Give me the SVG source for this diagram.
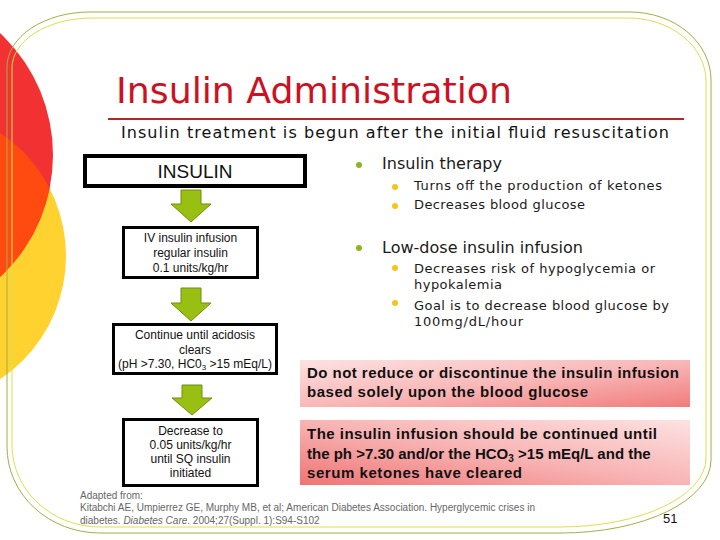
<svg xmlns="http://www.w3.org/2000/svg" width="720" height="540" viewBox="0 0 720 540">
<defs>
<style>
.box{fill:#fff;stroke:#000;stroke-width:3}
.bt{font-family:"Liberation Sans",Arial,sans-serif;font-size:12px;fill:#111;text-anchor:middle}
.arr{fill:#98bf12;stroke:#6f8f10;stroke-width:1}
.b1{font-family:"DejaVu Sans",Verdana,sans-serif;font-size:16px;fill:#1a1a1a}
.b2{font-family:"DejaVu Sans",Verdana,sans-serif;font-size:13px;fill:#1a1a1a}
.pk{font-family:"Liberation Sans",Arial,sans-serif;font-size:15px;font-weight:bold;fill:#111}
.ft{font-family:"Liberation Sans",Arial,sans-serif;font-size:10px;fill:#666}
.gd{fill:#8db520}
.yd{fill:#f5c518}
</style>
<linearGradient id="gA" x1="0" y1="0" x2="1" y2="1">
<stop offset="0" stop-color="#fde2e2"/>
<stop offset="0.5" stop-color="#f9b8b8"/>
<stop offset="1" stop-color="#f07c7c"/>
</linearGradient>
<linearGradient id="gB" x1="0" y1="1" x2="1" y2="0">
<stop offset="0" stop-color="#ef7474"/>
<stop offset="0.5" stop-color="#f8b4b4"/>
<stop offset="1" stop-color="#fde2e2"/>
</linearGradient>
<clipPath id="cy"><circle cx="-82" cy="256" r="148"/></clipPath>
</defs>

<g id="decor">
<circle cx="-82" cy="256" r="148" fill="#ffd230"/>
<circle cx="-114" cy="155" r="167" fill="#f23232"/>
<circle cx="-114" cy="155" r="167" fill="#ff4a10" clip-path="url(#cy)"/>
<path d="M 90,12 H 630 A 81,68 0 0 1 711,80 V 460 A 150,73 0 0 1 561,533 H 100 A 93,86 0 0 1 7,447 V 67 A 83,55 0 0 1 90,12 Z" fill="none" stroke="#a4ad45" stroke-width="1"/>
<path d="M 92,18 H 628 A 78,63 0 0 1 706,81 V 458 A 146,69 0 0 1 560,527 H 100 A 88,82 0 0 1 12,445 V 68 A 80,50 0 0 1 92,18 Z" fill="none" stroke="#dede50" stroke-width="1"/>
</g>

<g id="title">
<text x="116" y="103" font-family="'DejaVu Sans',Verdana,sans-serif" font-size="35.5" fill="#cc1122" textLength="396" lengthAdjust="spacingAndGlyphs">Insulin Administration</text>
<line x1="108" y1="119" x2="684" y2="119" stroke="#b02828" stroke-width="2"/>
<text x="121" y="138" font-family="'DejaVu Sans',Verdana,sans-serif" font-size="16" fill="#111" textLength="548" lengthAdjust="spacing">Insulin treatment is begun after the initial fluid resuscitation</text>
</g>

<g id="connectors">
<polygon class="arr" points="181,190 201,190 201,204 211,204 191,222 171,204 181,204"/>
<polygon class="arr" points="181,288 201,288 201,303 211,303 191,321 171,303 181,303"/>
<polygon class="arr" points="182,385 202,385 202,398 212,398 192,415 172,398 182,398"/>
</g>

<g id="node-insulin">
<rect x="85" y="156" width="220" height="30" fill="#fff" stroke="#000" stroke-width="4"/>
<text x="195" y="178" font-family="'Liberation Sans',Arial,sans-serif" font-size="19" fill="#111" text-anchor="middle">INSULIN</text>
</g>

<g id="node-iv">
<rect class="box" x="123.5" y="227.5" width="134" height="50"/>
<text class="bt" x="190.5" y="242">IV insulin infusion</text>
<text class="bt" x="190.5" y="257">regular insulin</text>
<text class="bt" x="190.5" y="272">0.1 units/kg/hr</text>
</g>

<g id="node-continue">
<rect class="box" x="113.5" y="324.5" width="163" height="49"/>
<text class="bt" x="195" y="339">Continue until acidosis</text>
<text class="bt" x="195" y="354">clears</text>
<text class="bt" x="195" y="368">(pH &gt;7.30, HC0<tspan font-size="8" dy="2">3</tspan><tspan dy="-2"> &gt;15 mEq/L)</tspan></text>
</g>

<g id="node-decrease">
<rect class="box" x="123.5" y="419.5" width="134" height="66"/>
<text class="bt" x="190.5" y="435">Decrease to</text>
<text class="bt" x="190.5" y="449">0.05 units/kg/hr</text>
<text class="bt" x="190.5" y="463">until SQ insulin</text>
<text class="bt" x="190.5" y="477">initiated</text>
</g>

<g id="bullets">
<circle class="gd" cx="359" cy="165" r="3"/>
<text class="b1" x="382" y="169" textLength="120" lengthAdjust="spacing">Insulin therapy</text>
<circle class="yd" cx="395" cy="187" r="3"/>
<text class="b2" x="414" y="190" textLength="248" lengthAdjust="spacing">Turns off the production of ketones</text>
<circle class="yd" cx="395" cy="206" r="3"/>
<text class="b2" x="414" y="209" textLength="171" lengthAdjust="spacing">Decreases blood glucose</text>
<circle class="gd" cx="359" cy="248" r="3"/>
<text class="b1" x="382" y="253" textLength="201" lengthAdjust="spacing">Low-dose insulin infusion</text>
<circle class="yd" cx="395" cy="268" r="3"/>
<text class="b2" x="414" y="273" textLength="241" lengthAdjust="spacing">Decreases risk of hypoglycemia or</text>
<text class="b2" x="414" y="289" textLength="88" lengthAdjust="spacing">hypokalemia</text>
<circle class="yd" cx="395" cy="303" r="3"/>
<text class="b2" x="414" y="310" textLength="255" lengthAdjust="spacing">Goal is to decrease blood glucose by</text>
<text class="b2" x="414" y="326" textLength="109" lengthAdjust="spacing">100mg/dL/hour</text>
</g>

<g id="note-1">
<rect x="300" y="360" width="390" height="47" fill="url(#gA)"/>
<text class="pk" x="307" y="378" textLength="372" lengthAdjust="spacing">Do not reduce or discontinue the insulin infusion</text>
<text class="pk" x="307" y="397" textLength="281" lengthAdjust="spacing">based solely upon the blood glucose</text>
</g>

<g id="note-2">
<rect x="300" y="420" width="390" height="65" fill="url(#gB)"/>
<text class="pk" x="307" y="439" textLength="350" lengthAdjust="spacing">The insulin infusion should be continued until</text>
<text class="pk" x="307" y="459">the ph &gt;7.30 and/or the HCO<tspan font-size="10" dy="3">3</tspan><tspan dy="-3"> &gt;15 mEq/L and the</tspan></text>
<text class="pk" x="307" y="478" textLength="215" lengthAdjust="spacing">serum ketones have cleared</text>
</g>

<g id="footer">
<text class="ft" x="80" y="499">Adapted from:</text>
<text class="ft" x="80" y="511" textLength="455" lengthAdjust="spacing">Kitabchi AE, Umpierrez GE, Murphy MB, et al; American Diabetes Association. Hyperglycemic crises in</text>
<text class="ft" x="80" y="524">diabetes. <tspan font-style="italic">Diabetes Care</tspan>. 2004;27(Suppl. 1):S94-S102</text>
<text x="663" y="523" font-family="'Liberation Sans',Arial,sans-serif" font-size="13" fill="#111">51</text>
</g>
</svg>
